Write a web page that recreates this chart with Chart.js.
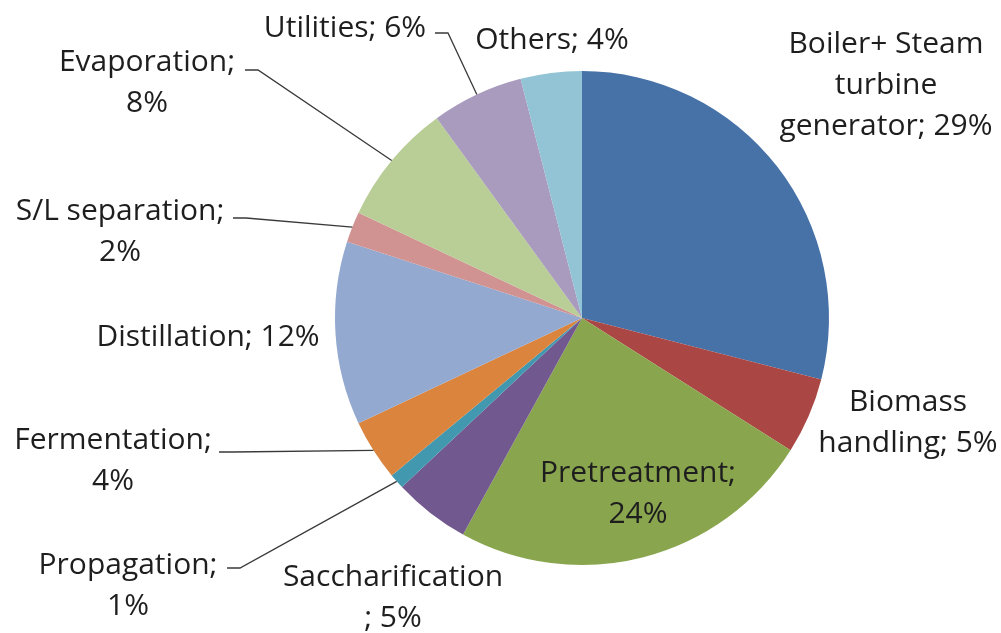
<!DOCTYPE html>
<html>
<head>
<meta charset="utf-8">
<title>Energy consumption breakdown</title>
<script src="https://cdn.jsdelivr.net/npm/chart.js@4"></script>
<style>
   html, body { margin: 0; padding: 0; background: #ffffff; }
   #wrap { width: 1001px; height: 633px; }
</style>
</head>
<body>
<div id="wrap"><canvas id="grafico" width="1001" height="633"></canvas></div>
<script>
// categories (with the line breaks the original labels use)
const categorias = [
   'Boiler+ Steam\nturbine\ngenerator',
   'Biomass\nhandling',
   'Pretreatment',
   'Saccharification',
   'Propagation',
   'Fermentation',
   'Distillation',
   'S/L separation',
   'Evaporation',
   'Utilities',
   'Others'
];

// share of each step, in %
const porcentajes = [29, 5, 24, 5, 1, 4, 12, 2, 8, 6, 4];

// separator between name and value in each label
const separadores = ['; ', '; ', ';\n', '\n; ', ';\n', ';\n', '; ', ';\n', ';\n', '; ', '; '];

const colores = [
   '#4672A8', '#AA4643', '#89A54E', '#71588F', '#4198AF', '#DB843D',
   '#93A9CF', '#D19392', '#B9CD96', '#A99BBD', '#92C4D6'
];

// where each label sits (centre x, centre of first line) and where its leader line starts
const etiquetas = [
   { x: 886, y: 44 },
   { x: 908, y: 402 },
   { x: 638, y: 473 },
   { x: 393, y: 577 },
   { x: 128, y: 565, linea: [227, 568] },
   { x: 113, y: 440, linea: [219, 452] },
   { x: 208, y: 337 },
   { x: 120, y: 211, linea: [233, 218] },
   { x: 147, y: 62, linea: [245, 70] },
   { x: 345, y: 28, linea: [435, 33] },
   { x: 552, y: 40 }
];

const fuente = '30px "Open Sans"';
const altoLinea = 41;

const pluginEtiquetas = {
   id: 'etiquetas',
   afterDatasetsDraw(chart) {
      const ctx = chart.ctx;
      const arcos = chart.getDatasetMeta(0).data;
      ctx.save();

      // leader lines: short stub, then straight to the middle of the slice's outer edge
      ctx.strokeStyle = '#3a3a3a';
      ctx.lineWidth = 1.3;
      arcos.forEach((arco, i) => {
         const e = etiquetas[i];
         if (!e.linea) return;
         const { x, y, startAngle, endAngle, outerRadius } = arco.getProps(['x', 'y', 'startAngle', 'endAngle', 'outerRadius'], true);
         const medio = (startAngle + endAngle) / 2;
         const px = x + Math.cos(medio) * outerRadius;
         const py = y + Math.sin(medio) * outerRadius;
         ctx.beginPath();
         ctx.moveTo(e.linea[0], e.linea[1]);
         ctx.lineTo(e.linea[0] + 13, e.linea[1]);
         ctx.lineTo(px, py);
         ctx.stroke();
      });

      // label text
      ctx.font = fuente;
      ctx.fillStyle = '#1e1e1e';
      ctx.textAlign = 'center';
      ctx.textBaseline = 'middle';
      categorias.forEach((cat, i) => {
         const texto = `${cat}${separadores[i]}${porcentajes[i]}%`;
         const e = etiquetas[i];
         texto.split('\n').forEach((linea, j) => {
            ctx.fillText(linea, e.x, e.y + j * altoLinea);
         });
      });
      ctx.restore();
   }
};

function dibujar() {
   const ctx = document.getElementById('grafico').getContext('2d');
   new Chart(ctx, {
      type: 'pie',
      data: {
         labels: categorias.map(c => c.replace(/\n/g, ' ')),
         datasets: [{
            data: porcentajes,
            backgroundColor: colores,
            borderWidth: 0
         }]
      },
      options: {
         responsive: false,
         animation: false,
         devicePixelRatio: 1,
         events: [],
         layout: {
            padding: { left: 335, right: 172, top: 71, bottom: 68 }
         },
         plugins: {
            legend: { display: false },
            tooltip: { enabled: false }
         }
      },
      plugins: [pluginEtiquetas]
   });
}

document.fonts.load(fuente).then(dibujar, dibujar);
</script>
</body>
</html>
